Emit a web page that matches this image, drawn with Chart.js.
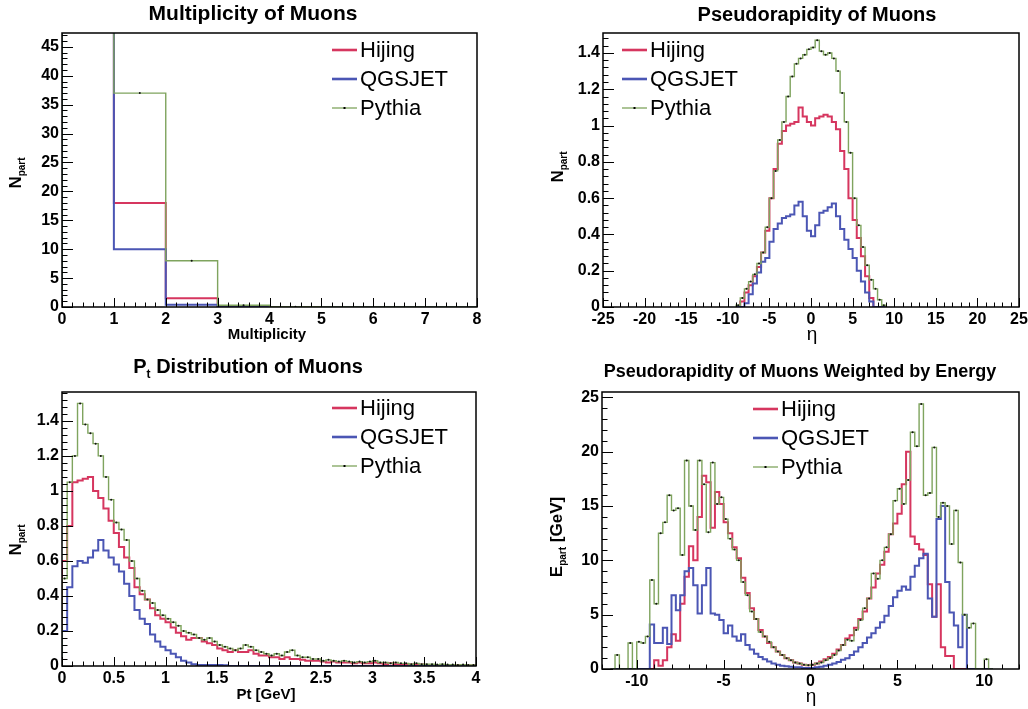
<!DOCTYPE html>
<html lang="en">
  <head>
    <meta charset="UTF-8" />
    <title>Muon distributions - Hijing, QGSJET, Pythia</title>
    <script src="https://cdn.jsdelivr.net/npm/chart.js@4.4.1/dist/chart.umd.min.js"></script>
    <style>
      html, body { margin: 0; padding: 0; background: #fff; overflow: hidden; }
      #page { position: relative; width: 1028px; height: 709px; }
      .pad { position: absolute; }
      .pad canvas { display: block; }
    </style>
  </head>
  <body>
    <div id="page">
      <div class="pad" style="left:0;top:0"><canvas id="multChart" width="514" height="350"></canvas></div>
      <div class="pad" style="left:514px;top:0"><canvas id="etaChart" width="526" height="350"></canvas></div>
      <div class="pad" style="left:0;top:350px"><canvas id="ptChart" width="514" height="359"></canvas></div>
      <div class="pad" style="left:514px;top:350px"><canvas id="etaEChart" width="526" height="359"></canvas></div>
    </div>

    <script>
      const FONT = '"Liberation Sans", Arial, Helvetica, sans-serif';
      Chart.defaults.font.family = FONT;
      Chart.defaults.color = '#000';

      const seriesNames = ['Hijing', 'QGSJET', 'Pythia'];
      const seriesColors = ['#d6365f', '#4b56b4', '#7fa45e'];

      // ---- Multiplicity of Muons: bins of width 1 starting at 0 ----
      const multStart = 0, multWidth = 1;
      // first bin is above the frame (off scale) for all three generators
      const multHijing = [60, 18, 1.5, 0.1, 0, 0, 0, 0];
      const multQgsjet = [60, 10, 0.4, 0.05, 0, 0, 0, 0];
      const multPythia = [60, 37, 8, 0.3, 0.05, 0, 0, 0];
      const multXTicks = [0, 1, 2, 3, 4, 5, 6, 7, 8];
      const multYTicks = [0, 5, 10, 15, 20, 25, 30, 35, 40, 45];

      // ---- Pseudorapidity of Muons: bins of width 0.5 from -9 ----
      const etaStart = -9, etaWidth = 0.5;
      const etaHijing = [0, 0.03, 0.08, 0.12, 0.17, 0.22, 0.3, 0.42, 0.6, 0.76,
        0.9, 0.97, 1.0, 1.01, 1.02, 1.1, 1.05, 1.02, 1.0, 1.04,
        1.05, 1.06, 1.05, 1.02, 0.98, 0.86, 0.76, 0.6, 0.48, 0.38,
        0.28, 0.17, 0.05, 0, 0, 0];
      const etaQgsjet = [0, 0, 0.02, 0.07, 0.13, 0.19, 0.25, 0.27, 0.36, 0.43,
        0.46, 0.49, 0.5, 0.51, 0.56, 0.58, 0.5, 0.42, 0.39, 0.45,
        0.52, 0.53, 0.55, 0.57, 0.5, 0.43, 0.37, 0.32, 0.27, 0.2,
        0.14, 0.08, 0.03, 0, 0, 0];
      const etaPythia = [0.01, 0.05, 0.1, 0.14, 0.18, 0.24, 0.3, 0.44, 0.6, 0.75,
        0.92, 1.02, 1.16, 1.27, 1.34, 1.37, 1.39, 1.42, 1.43, 1.47,
        1.41, 1.39, 1.4, 1.37, 1.3, 1.18, 1.02, 0.85, 0.6, 0.45,
        0.33, 0.23, 0.15, 0.1, 0.04, 0.01];
      const etaXTicks = [-25, -20, -15, -10, -5, 0, 5, 10, 15, 20, 25];
      const etaYTicks = [0, 0.2, 0.4, 0.6, 0.8, 1, 1.2, 1.4];

      // ---- Pt distribution: bins of width 0.05 GeV from 0 ----
      const ptStart = 0, ptWidth = 0.05;
      const ptHijing = [0.6, 0.8, 1.05, 1.06, 1.07, 1.08, 1.0, 0.96, 0.9, 0.83,
        0.76, 0.68, 0.62, 0.56, 0.45, 0.41, 0.38, 0.33, 0.29, 0.27,
        0.25, 0.22, 0.19, 0.17, 0.15, 0.16, 0.16, 0.14, 0.13, 0.12,
        0.1, 0.09, 0.08, 0.09, 0.08, 0.08, 0.09, 0.07, 0.06, 0.06,
        0.05, 0.05, 0.04, 0.05, 0.04, 0.04, 0.035, 0.03, 0.03, 0.03,
        0.025, 0.02, 0.025, 0.02, 0.02, 0.02, 0.015, 0.02, 0.015, 0.015,
        0.02, 0.015, 0.01, 0.015, 0.01, 0.01, 0.01, 0.008, 0.01, 0.008,
        0.006, 0.006, 0.005, 0.005, 0.005, 0.004, 0.004, 0.004, 0.003, 0.003];
      const ptQgsjet = [0.2, 0.45, 0.57, 0.6, 0.59, 0.62, 0.66, 0.72, 0.66, 0.62,
        0.58, 0.54, 0.47, 0.4, 0.32, 0.27, 0.24, 0.18, 0.14, 0.11,
        0.09, 0.07, 0.05, 0.03, 0.02, 0.01, 0.005, 0.005, 0.005, 0.005,
        0.005, 0.004, 0, 0, 0, 0, 0, 0, 0, 0,
        0, 0, 0, 0, 0, 0, 0, 0, 0, 0,
        0, 0, 0, 0, 0, 0, 0, 0, 0, 0,
        0, 0, 0, 0, 0, 0, 0, 0, 0, 0,
        0, 0, 0, 0, 0, 0, 0, 0, 0, 0];
      const ptPythia = [0.5, 1.05, 1.2, 1.5, 1.38, 1.33, 1.27, 1.2, 1.08, 0.95,
        0.82, 0.78, 0.72, 0.6, 0.5, 0.43, 0.38, 0.36, 0.32, 0.29,
        0.27, 0.25, 0.23, 0.2, 0.19, 0.18, 0.16, 0.15, 0.16, 0.14,
        0.12, 0.11, 0.1, 0.09, 0.1, 0.12, 0.11, 0.09, 0.08, 0.07,
        0.06, 0.07, 0.06, 0.08, 0.09, 0.06, 0.05, 0.05, 0.04, 0.04,
        0.03, 0.035, 0.03, 0.025, 0.03, 0.025, 0.02, 0.025, 0.02, 0.025,
        0.03, 0.02, 0.02, 0.015, 0.02, 0.015, 0.015, 0.01, 0.015, 0.01,
        0.01, 0.01, 0.008, 0.01, 0.008, 0.008, 0.006, 0.008, 0.006, 0.006];
      const ptXTicks = [0, 0.5, 1, 1.5, 2, 2.5, 3, 3.5, 4];
      const ptYTicks = [0, 0.2, 0.4, 0.6, 0.8, 1, 1.2, 1.4];

      // ---- Pseudorapidity weighted by energy: bins of width 0.25 from -11.5 ----
      const etaEStart = -11.5, etaEWidth = 0.25;
      const etaEHijing = [0, 0, 0, 0, 0, 0, 0, 0, 0, 0,
        0.8, 0.3, 0.8, 2.0, 3.2, 2.6, 6.0, 8.5, 11.3, 10.0,
        14.0, 17.8, 17.2, 13.0, 16.3, 15.2, 13.5, 12.5, 11.2, 10.2,
        8.4, 7.0, 5.6, 4.6, 3.6, 3.0, 2.4, 2.0, 1.6, 1.3,
        1.0, 0.8, 0.6, 0.5, 0.4, 0.35,
        0.4, 0.5, 0.7, 0.9, 1.1, 1.4, 1.8, 2.2, 2.8, 3.1,
        3.8, 4.6, 5.3, 6.5, 7.5, 8.8, 9.6, 10.8, 12.4, 13.4,
        14.3, 17.0, 20.0, 12.2, 11.5, 11.0, 10.5, 7.8, 4.8, 7.8,
        2.0, 1.2, 1.2, 0, 0, 0, 0, 0, 0, 0,
        0, 0];
      const etaEQgsjet = [0, 0, 0, 0, 0, 0, 0, 0, 0, 4.1,
        2.4, 2.4, 3.8, 2.3, 6.8, 5.4, 6.8, 9.0, 9.3, 7.7,
        5.1, 7.7, 9.3, 5.1, 5.0, 4.5, 3.3, 4.0, 3.0, 2.6,
        3.2, 2.2, 1.8, 1.4, 1.1, 0.9, 0.7, 0.5, 0.4, 0.3,
        0.25, 0.2, 0.15, 0.15, 0.1, 0.1,
        0.1, 0.15, 0.2, 0.3, 0.4, 0.5, 0.65, 0.85, 1.0, 1.3,
        1.6, 2.0, 2.4, 2.9, 3.3, 3.8, 4.3, 4.9, 5.8, 6.6,
        7.2, 7.6, 7.3, 8.5, 9.5, 10.2, 10.6, 6.5, 4.8, 13.8,
        15.0, 8.0, 5.2, 4.0, 2.0, 5.0, 0, 0, 0, 0,
        0, 0];
      const etaEPythia = [0, 1.3, 0, 0, 2.4, 0, 2.5, 2.4, 3.0, 8.2,
        6.0, 12.5, 13.5, 16.0, 14.6, 14.8, 10.5, 19.2, 15.0, 12.8,
        19.2, 17.0, 12.6, 19.0, 15.2, 15.8, 13.8, 12.0, 11.0, 10.0,
        8.0, 6.8, 5.3, 4.6, 3.4, 3.0, 2.5, 2.0, 1.6, 1.3,
        1.0, 0.8, 0.6, 0.5, 0.4, 0.35,
        0.4, 0.5, 0.6, 0.8, 1.0, 1.3, 1.7, 2.2, 2.7, 2.6,
        3.6, 4.5, 5.6, 6.5, 8.8, 8.3, 10.0, 11.2, 12.4, 15.5,
        16.6, 15.2, 17.4, 21.8, 20.5, 24.4, 16.0, 16.2, 20.4, 14.0,
        15.3, 15.0, 11.5, 14.6, 9.8, 5.0, 3.8, 4.2, 0, 0,
        0.9, 0];
      const etaEXTicks = [-10, -5, 0, 5, 10];
      const etaEYTicks = [0, 5, 10, 15, 20, 25];

      // histogram outline: one point per low bin edge; with stepped 'before'
      // each value is held flat until the next edge
      function histPoints(start, width, values) {
        const pts = [{ x: start, y: 0 }];
        values.forEach((v, i) => pts.push({ x: start + i * width, y: v }));
        pts.push({ x: start + values.length * width, y: 0 });
        return pts;
      }

      function centerPoints(start, width, values) {
        return values
          .map((v, i) => ({ x: start + (i + 0.5) * width, y: v }))
          .filter(p => p.y > 0);
      }

      // text with subscripts, centred on (x, y), optionally rotated
      function drawRuns(ctx, runs, x, y, size, weight, angle) {
        const subSize = Math.round(size * 0.6);
        const fontFor = r => `${weight} ${r.sub ? subSize : size}px ${FONT}`;
        let w = 0;
        runs.forEach(r => { ctx.font = fontFor(r); w += ctx.measureText(r.t).width; });
        ctx.save();
        ctx.translate(x, y);
        ctx.rotate(angle || 0);
        ctx.fillStyle = '#000';
        ctx.textAlign = 'left';
        ctx.textBaseline = 'middle';
        let cx = -w / 2;
        runs.forEach(r => {
          ctx.font = fontFor(r);
          ctx.fillText(r.t, cx, r.sub ? size * 0.38 : 0);
          cx += ctx.measureText(r.t).width;
        });
        ctx.restore();
      }

      // ROOT-like frame, inner ticks, titles and legend
      function makeDecor(p) {
        return {
          id: 'decor',
          afterDatasetsDraw(chart) {
            const { ctx, chartArea: a } = chart;
            const xs = chart.scales.x, ys = chart.scales.y;
            const isMajor = (list, v) => list.some(t => Math.abs(t - v) < 1e-6);
            ctx.save();
            ctx.strokeStyle = '#000';
            ctx.lineWidth = 1;
            ctx.beginPath();
            const nx = Math.round((xs.max - xs.min) / p.xMinor);
            for (let i = 0; i <= nx; i++) {
              const v = xs.min + i * p.xMinor;
              const len = isMajor(p.xTicks, v) ? 9 : 4.5;
              const px = Math.round(xs.getPixelForValue(v)) + 0.5;
              ctx.moveTo(px, a.bottom);
              ctx.lineTo(px, a.bottom - len);
            }
            const ny = Math.floor((ys.max - ys.min) / p.yMinor + 1e-6);
            for (let i = 0; i <= ny; i++) {
              const v = ys.min + i * p.yMinor;
              const len = isMajor(p.yTicks, v) ? 11 : 5.5;
              const py = Math.round(ys.getPixelForValue(v)) + 0.5;
              ctx.moveTo(a.left, py);
              ctx.lineTo(a.left + len, py);
            }
            ctx.stroke();
            ctx.lineWidth = 1.5;
            ctx.strokeRect(a.left, a.top, a.right - a.left, a.bottom - a.top);
            ctx.restore();
          },
          afterDraw(chart) {
            const ctx = chart.ctx;
            drawRuns(ctx, p.title, p.titlePos[0], p.titlePos[1], p.titleSize, 'bold');
            drawRuns(ctx, p.xTitle, p.xTitlePos[0], p.xTitlePos[1], p.xTitleSize, p.xTitleWeight);
            drawRuns(ctx, p.yTitle, p.yTitlePos[0], p.yTitlePos[1], 17, 'bold', -Math.PI / 2);

            // legend, drawn inside the frame
            ctx.save();
            ctx.font = `22px ${FONT}`;
            ctx.textBaseline = 'middle';
            ctx.fillStyle = '#000';
            seriesNames.forEach((name, i) => {
              const y = p.legend[1] + i * 29;
              const x = p.legend[0];
              ctx.strokeStyle = seriesColors[i];
              ctx.lineWidth = i === 2 ? 1.3 : 2.6;
              ctx.beginPath();
              ctx.moveTo(x, y);
              ctx.lineTo(x + 25, y);
              ctx.stroke();
              if (i === 2) {
                ctx.fillStyle = '#000';
                ctx.fillRect(x + 11.5, y - 1, 2, 2);
              }
              ctx.fillStyle = '#000';
              ctx.fillText(name, x + 28, y + 1);
            });
            ctx.restore();
          }
        };
      }

      function makePanel(canvasId, p) {
        const series = [p.hijing, p.qgsjet, p.pythia];
        const datasets = series.map((vals, i) => ({
          label: seriesNames[i],
          data: histPoints(p.start, p.width, vals),
          borderColor: seriesColors[i],
          borderWidth: i === 2 ? 1.4 : 2,
          stepped: 'before',
          pointRadius: 0,
          fill: false,
          order: 3 - i
        }));
        // Pythia error-bar markers at bin centres
        datasets.push({
          label: 'Pythia markers',
          data: centerPoints(p.start, p.width, p.pythia),
          showLine: false,
          pointRadius: 1,
          pointBackgroundColor: '#111',
          pointBorderWidth: 0,
          order: 0
        });

        const tickFont = { size: 16, weight: 'bold' };
        return new Chart(document.getElementById(canvasId), {
          type: 'line',
          data: { datasets },
          options: {
            responsive: false,
            animation: false,
            layout: { padding: p.padding },
            plugins: { legend: { display: false }, tooltip: { enabled: false } },
            scales: {
              x: {
                type: 'linear',
                min: p.xMin,
                max: p.xMax,
                grid: { display: false, drawTicks: false },
                border: { display: false },
                ticks: {
                  font: tickFont, padding: 3, autoSkip: false, maxRotation: 0,
                  callback: v => String(Math.round(v * 100) / 100)
                },
                afterBuildTicks: s => { s.ticks = p.xTicks.map(v => ({ value: v })); },
                afterFit: s => { s.height = 30; }
              },
              y: {
                type: 'linear',
                min: 0,
                max: p.yMax,
                grid: { display: false, drawTicks: false },
                border: { display: false },
                ticks: {
                  font: tickFont, padding: 3, autoSkip: false,
                  callback: v => String(Math.round(v * 100) / 100)
                },
                afterBuildTicks: s => { s.ticks = p.yTicks.map(v => ({ value: v })); },
                afterFit: s => { s.width = p.yWidth; }
              }
            }
          },
          plugins: [makeDecor(p)]
        });
      }

      const NPART = [{ t: 'N' }, { t: 'part', sub: true }];

      makePanel('multChart', {
        start: multStart, width: multWidth,
        hijing: multHijing, qgsjet: multQgsjet, pythia: multPythia,
        xMin: 0, xMax: 8, yMax: 47.4, xTicks: multXTicks, yTicks: multYTicks,
        xMinor: 0.2, yMinor: 1,
        yWidth: 62, padding: { top: 33, right: 37, bottom: 13, left: 0 },
        title: [{ t: 'Multiplicity of Muons' }], titlePos: [253, 14], titleSize: 21,
        xTitle: [{ t: 'Multiplicity' }], xTitlePos: [267, 335], xTitleSize: 15, xTitleWeight: 'bold',
        yTitle: NPART, yTitlePos: [16, 173],
        legend: [332, 50]
      });

      makePanel('etaChart', {
        start: etaStart, width: etaWidth,
        hijing: etaHijing, qgsjet: etaQgsjet, pythia: etaPythia,
        xMin: -25, xMax: 25, yMax: 1.51, xTicks: etaXTicks, yTicks: etaYTicks,
        xMinor: 1, yMinor: 0.04,
        yWidth: 89, padding: { top: 33, right: 21, bottom: 13, left: 0 },
        title: [{ t: 'Pseudorapidity of Muons' }], titlePos: [303, 15], titleSize: 20,
        xTitle: [{ t: 'η' }], xTitlePos: [298, 335], xTitleSize: 19, xTitleWeight: 'normal',
        yTitle: NPART, yTitlePos: [44, 167],
        legend: [108, 50]
      });

      makePanel('ptChart', {
        start: ptStart, width: ptWidth,
        hijing: ptHijing, qgsjet: ptQgsjet, pythia: ptPythia,
        xMin: 0, xMax: 4, yMax: 1.565, xTicks: ptXTicks, yTicks: ptYTicks,
        xMinor: 0.1, yMinor: 0.04,
        yWidth: 62, padding: { top: 42, right: 38, bottom: 13, left: 0 },
        title: [{ t: 'P' }, { t: 't', sub: true }, { t: ' Distribution of Muons' }], titlePos: [248, 17], titleSize: 20,
        xTitle: [{ t: 'Pt [GeV]' }], xTitlePos: [266, 345], xTitleSize: 15, xTitleWeight: 'bold',
        yTitle: NPART, yTitlePos: [16, 190],
        legend: [332, 58]
      });

      makePanel('etaEChart', {
        start: etaEStart, width: etaEWidth,
        hijing: etaEHijing, qgsjet: etaEQgsjet, pythia: etaEPythia,
        xMin: -12, xMax: 12, yMax: 25.5, xTicks: etaEXTicks, yTicks: etaEYTicks,
        xMinor: 1, yMinor: 1,
        yWidth: 88, padding: { top: 42, right: 21, bottom: 10, left: 0 },
        title: [{ t: 'Pseudorapidity of Muons Weighted by Energy' }], titlePos: [286, 22], titleSize: 18,
        xTitle: [{ t: 'η' }], xTitlePos: [297, 347], xTitleSize: 19, xTitleWeight: 'normal',
        yTitle: [{ t: 'E' }, { t: 'part', sub: true }, { t: ' [GeV]' }], yTitlePos: [43, 187],
        legend: [239, 59]
      });
    </script>
  </body>
</html>
